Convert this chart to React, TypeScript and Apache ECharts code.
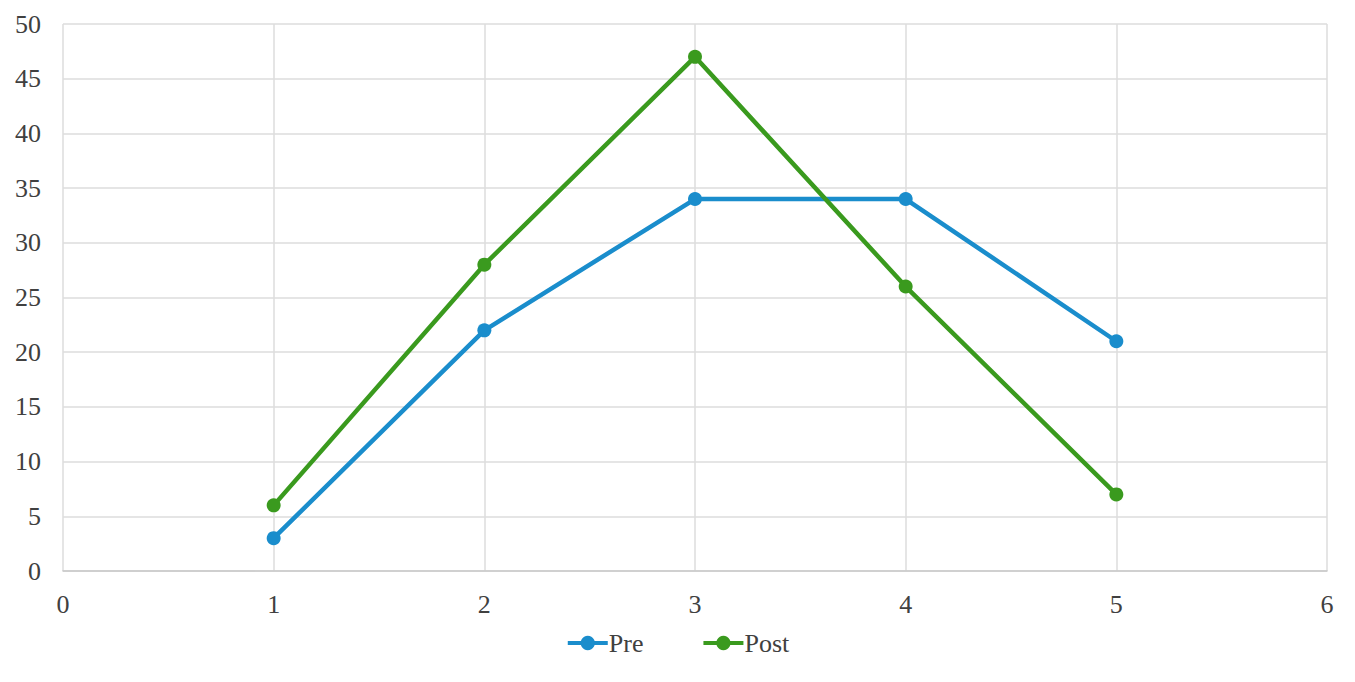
import React, { useEffect, useRef } from 'react';
import * as echarts from 'echarts';

const xValues = [1, 2, 3, 4, 5];
const preValues = [3, 22, 34, 34, 21];
const postValues = [6, 28, 47, 26, 7];
const seriesNames = ['Pre', 'Post'];

const FONT = '"Liberation Serif", "DejaVu Serif", serif';
const BLUE = '#1a8dcc';
const GREEN = '#3a9a1e';

const App: React.FC = () => {
    const chartRef = useRef<HTMLDivElement>(null);

    useEffect(() => {
        if (!chartRef.current) return;
        const myChart = echarts.init(chartRef.current, undefined, { renderer: 'svg' });
        const option: echarts.EChartsOption = {
            animation: false,
            textStyle: { fontFamily: FONT },
            grid: { left: 63, right: 28, top: 24, bottom: 111 },
            legend: {
                bottom: 21,
                left: 'center',
                itemGap: 58,
                itemWidth: 40,
                itemHeight: 18,
                lineStyle: { width: 4 },
                textStyle: { fontSize: 26, color: '#404040', fontFamily: FONT, padding: [0, 0, 0, -4] },
                data: seriesNames
            },
            xAxis: {
                type: 'value',
                min: 0,
                max: 6,
                interval: 1,
                axisLine: { show: true, lineStyle: { color: '#c8c8c8', width: 1.5 } },
                axisTick: { show: false },
                axisLabel: { fontSize: 26, color: '#404040', margin: 20, fontFamily: FONT },
                splitLine: { show: true, lineStyle: { color: '#dcdcdc', width: 1.5 } }
            },
            yAxis: {
                type: 'value',
                min: 0,
                max: 50,
                interval: 5,
                axisLine: { show: false },
                axisTick: { show: false },
                axisLabel: { fontSize: 26, color: '#404040', margin: 22, fontFamily: FONT },
                splitLine: { show: true, lineStyle: { color: '#dcdcdc', width: 1.5 } }
            },
            series: [
                {
                    name: seriesNames[0],
                    type: 'line',
                    data: xValues.map((x, i) => [x, preValues[i]]),
                    symbol: 'circle',
                    symbolSize: 14,
                    lineStyle: { width: 4.5, color: BLUE },
                    itemStyle: { color: BLUE }
                },
                {
                    name: seriesNames[1],
                    type: 'line',
                    data: xValues.map((x, i) => [x, postValues[i]]),
                    symbol: 'circle',
                    symbolSize: 14,
                    lineStyle: { width: 4.5, color: GREEN },
                    itemStyle: { color: GREEN }
                }
            ]
        };
        myChart.setOption(option);

        const handleResize = () => {
            myChart.resize();
        };
        window.addEventListener('resize', handleResize);

        return () => {
            window.removeEventListener('resize', handleResize);
            myChart.dispose();
        };
    }, []);

    return (
        <div
            ref={chartRef}
            style={{ position: 'fixed', left: 0, top: 0, width: '1355px', height: '682px', background: '#fff' }}
        />
    );
};

export default App;
